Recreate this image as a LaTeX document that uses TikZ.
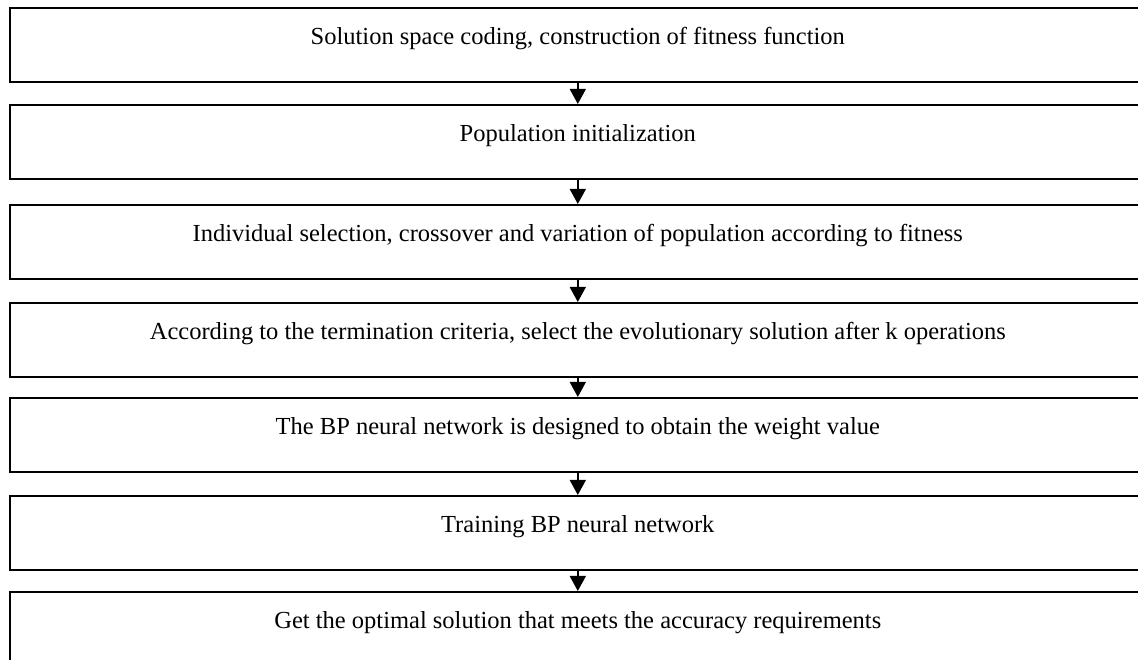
\documentclass[tikz,border=0pt]{standalone}
\usepackage{fontspec}
\setmainfont{Liberation Serif}
\usetikzlibrary{arrows.meta}
\begin{document}
\begin{tikzpicture}[x=1pt,y=1pt,
  stagebox/.style={draw=black, line width=1.6pt, rectangle, anchor=north west,
    minimum width=1136pt, minimum height=74pt, inner sep=0pt,
    text height=6pt, text depth=6pt, font=\fontsize{24.5}{28}\selectfont},
  flowarrow/.style={line width=1.5pt, -{Triangle[length=15pt,width=16pt]}}]
\useasboundingbox (0,0) rectangle (1138,660);
\clip (0,0) rectangle (1138,660);
\node[stagebox] (b1) at (9,653) {Solution space coding, construction of fitness function};
\node[stagebox] (b2) at (9,556) {Population initialization};
\node[stagebox] (b3) at (9,456) {Individual selection, crossover and variation of population according to fitness};
\node[stagebox] (b4) at (9,358) {According to the termination criteria, select the evolutionary solution after k operations};
\node[stagebox] (b5) at (9,263) {The BP neural network is designed to obtain the weight value};
\node[stagebox] (b6) at (9,165) {Training BP neural network};
\node[stagebox] (b7) at (9,69) {Get the optimal solution that meets the accuracy requirements};
\draw[flowarrow] (b1.south) -- (b2.north);
\draw[flowarrow] (b2.south) -- (b3.north);
\draw[flowarrow] (b3.south) -- (b4.north);
\draw[flowarrow] (b4.south) -- (b5.north);
\draw[flowarrow] (b5.south) -- (b6.north);
\draw[flowarrow] (b6.south) -- (b7.north);
\end{tikzpicture}
\end{document}
